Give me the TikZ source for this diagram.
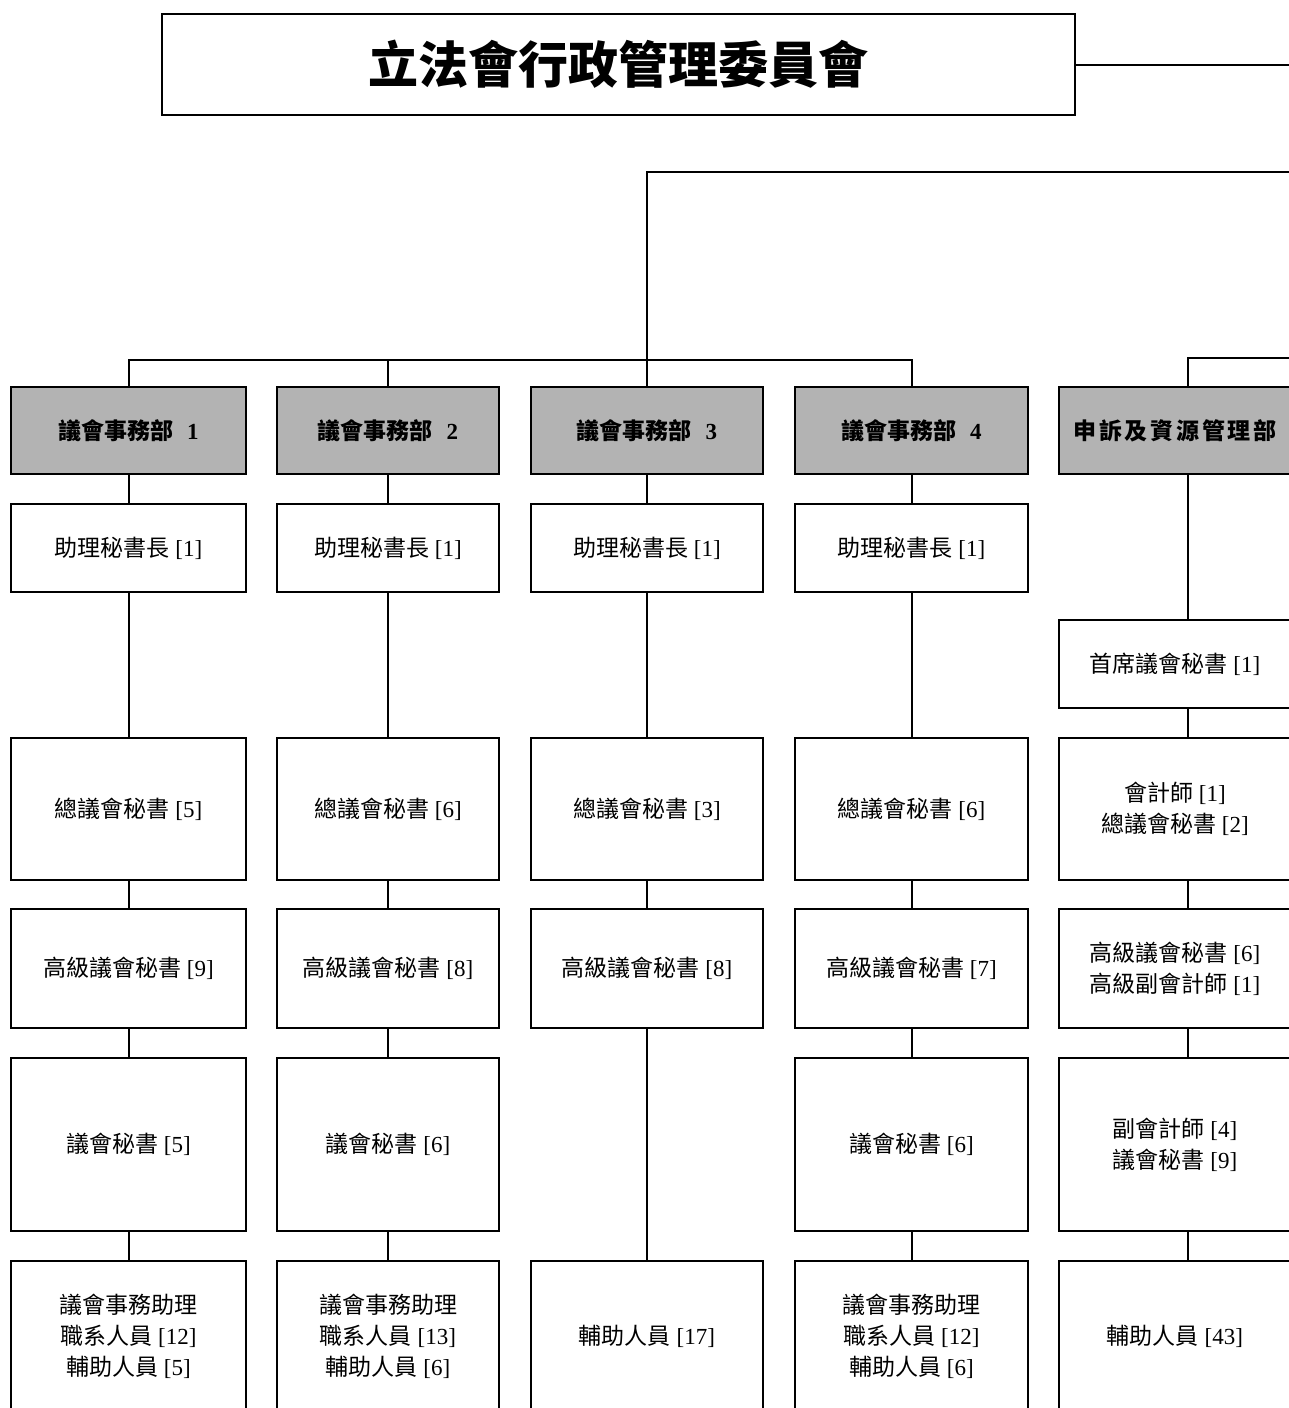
\documentclass[tikz,border=0pt]{standalone}
\usepackage{fontspec}
\setmainfont{Liberation Serif}
\newfontfamily\cjk{Noto Sans CJK TC}
\newfontfamily\cjkwide[LetterSpace=12]{Noto Sans CJK TC}
\newcommand\Z[1]{{\cjk #1}}
\definecolor{headgray}{HTML}{B3B3B3}
\begin{document}
\begin{tikzpicture}[x=1pt,y=-1pt,
  box/.style={draw, line width=2pt, align=center, inner sep=0pt, fill=white,
              font=\fontsize{23}{31}\selectfont},
  head/.style={box, fill=headgray, font=\fontsize{23}{31}\selectfont\bfseries},
  conn/.style={line width=2pt},
  wa/.style={minimum width=235pt}, wb/.style={minimum width=222pt},
  wc/.style={minimum width=232pt}, wd/.style={minimum width=233pt},
  we/.style={minimum width=232pt},
  rh/.style={minimum height=87pt}, rt/.style={minimum height=88pt},
  rz/.style={minimum height=142pt}, rs/.style={minimum height=119pt},
  rp/.style={minimum height=173pt}, rb/.style={minimum height=151pt}]
\useasboundingbox (0,0) rectangle (1288,1408);

% title
\node[draw, line width=2pt, minimum width=913pt, minimum height=101pt, inner sep=0pt,
      font=\fontsize{50}{58}\selectfont\cjk\bfseries] (title) at (618.5,64.5) {立法會行政管理委員會};

% headers
\node[head,wa,rh] (h1) at (128.5,430.5) {\Z{議會事務部}\hspace{0.6em}1};
\node[head,wb,rh] (h2) at (388,430.5) {\Z{議會事務部}\hspace{0.6em}2};
\node[head,wc,rh] (h3) at (647,430.5) {\Z{議會事務部}\hspace{0.6em}3};
\node[head,wd,rh] (h4) at (911.5,430.5) {\Z{議會事務部}\hspace{0.6em}4};
\node[head,we,rh,font=\fontsize{23}{31}\selectfont\bfseries\cjkwide] (h5) at (1175,430.5) {申訴及資源管理部};

% assistant secretaries general
\node[box,wa,rt] (a1) at (128.5,548) {\Z{助理秘書長} [1]};
\node[box,wb,rt] (a2) at (388,548) {\Z{助理秘書長} [1]};
\node[box,wc,rt] (a3) at (647,548) {\Z{助理秘書長} [1]};
\node[box,wd,rt] (a4) at (911.5,548) {\Z{助理秘書長} [1]};
\node[box,we,rt] (p5) at (1175,664) {\Z{首席議會秘書} [1]};

% chief council secretaries
\node[box,wa,rz] (z1) at (128.5,809) {\Z{總議會秘書} [5]};
\node[box,wb,rz] (z2) at (388,809) {\Z{總議會秘書} [6]};
\node[box,wc,rz] (z3) at (647,809) {\Z{總議會秘書} [3]};
\node[box,wd,rz] (z4) at (911.5,809) {\Z{總議會秘書} [6]};
\node[box,we,rz] (z5) at (1175,809) {\Z{會計師} [1]\\\Z{總議會秘書} [2]};

% senior council secretaries
\node[box,wa,rs] (s1) at (128.5,968.5) {\Z{高級議會秘書} [9]};
\node[box,wb,rs] (s2) at (388,968.5) {\Z{高級議會秘書} [8]};
\node[box,wc,rs] (s3) at (647,968.5) {\Z{高級議會秘書} [8]};
\node[box,wd,rs] (s4) at (911.5,968.5) {\Z{高級議會秘書} [7]};
\node[box,we,rs] (s5) at (1175,968.5) {\Z{高級議會秘書} [6]\\\Z{高級副會計師} [1]};

% council secretaries
\node[box,wa,rp] (c1) at (128.5,1144.5) {\Z{議會秘書} [5]};
\node[box,wb,rp] (c2) at (388,1144.5) {\Z{議會秘書} [6]};
\node[box,wd,rp] (c4) at (911.5,1144.5) {\Z{議會秘書} [6]};
\node[box,we,rp] (c5) at (1175,1144.5) {\Z{副會計師} [4]\\\Z{議會秘書} [9]};

% bottom row
\node[box,wa,rb] (b1) at (128.5,1336.5) {\Z{議會事務助理}\\\Z{職系人員} [12]\\\Z{輔助人員} [5]};
\node[box,wb,rb] (b2) at (388,1336.5) {\Z{議會事務助理}\\\Z{職系人員} [13]\\\Z{輔助人員} [6]};
\node[box,wc,rb] (b3) at (647,1336.5) {\Z{輔助人員} [17]};
\node[box,wd,rb] (b4) at (911.5,1336.5) {\Z{議會事務助理}\\\Z{職系人員} [12]\\\Z{輔助人員} [6]};
\node[box,we,rb] (b5) at (1175,1336.5) {\Z{輔助人員} [43]};

% top connectors
\coordinate (e1) at (1300,64.5);
\coordinate (e2) at (1300,172);
\coordinate (e3) at (1300,358);
\coordinate (bus) at (647,360);
\coordinate (k5) at (1188,0);
\draw[conn] (title.east) -- (e1);
\draw[conn] (e2) -| (bus);
\draw[conn] (h1.north) |- (bus);
\draw[conn] (h2.north) |- (bus);
\draw[conn] (h3.north) -- (bus);
\draw[conn] (h4.north) |- (bus);
\draw[conn] (k5 |- h5.north) |- (e3);

% column connectors
\draw[conn] (h1.south) -- (a1.north) (a1.south) -- (z1.north) (z1.south) -- (s1.north)
            (s1.south) -- (c1.north) (c1.south) -- (b1.north);
\draw[conn] (h2.south) -- (a2.north) (a2.south) -- (z2.north) (z2.south) -- (s2.north)
            (s2.south) -- (c2.north) (c2.south) -- (b2.north);
\draw[conn] (h3.south) -- (a3.north) (a3.south) -- (z3.north) (z3.south) -- (s3.north)
            (s3.south) -- (b3.north);
\draw[conn] (h4.south) -- (a4.north) (a4.south) -- (z4.north) (z4.south) -- (s4.north)
            (s4.south) -- (c4.north) (c4.south) -- (b4.north);
\draw[conn] (k5 |- h5.south) -- (k5 |- p5.north) (k5 |- p5.south) -- (k5 |- z5.north)
            (k5 |- z5.south) -- (k5 |- s5.north) (k5 |- s5.south) -- (k5 |- c5.north)
            (k5 |- c5.south) -- (k5 |- b5.north);
\end{tikzpicture}
\end{document}
